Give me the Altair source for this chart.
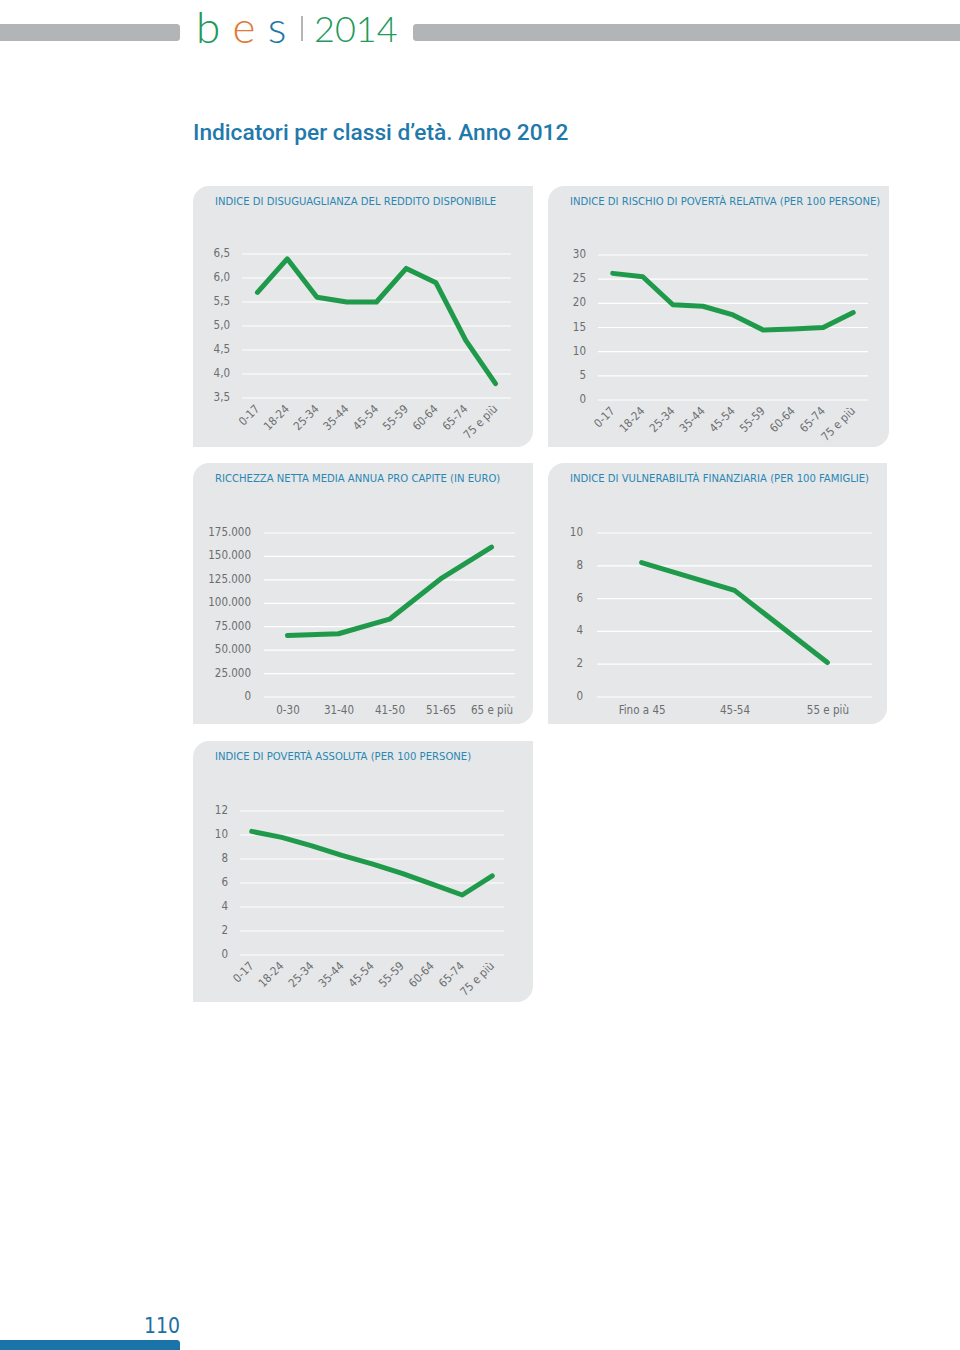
import altair as alt
import pandas as pd

# ---------------- data ----------------
AGE9 = ["0-17", "18-24", "25-34", "35-44", "45-54", "55-59", "60-64", "65-74", "75 e più"]
DISUG = [5.7, 6.4, 5.6, 5.5, 5.5, 6.2, 5.9, 4.7, 3.8]
RISCHIO = [26.2, 25.5, 19.7, 19.4, 17.6, 14.5, 14.7, 15.0, 18.1]
AGE_RICC = ["0-30", "31-40", "41-50", "51-65", "65 e più"]
RICCHEZZA = [65500, 67500, 83000, 126000, 160000]
AGE_VULN = ["Fino a 45", "45-54", "55 e più"]
VULNER = [8.2, 6.5, 2.1]
ASSOLUTA = [10.3, 9.8, 9.1, 8.3, 7.6, 6.8, 5.9, 5.0, 6.6]

TICKS_DISUG = [3.5, 4.0, 4.5, 5.0, 5.5, 6.0, 6.5]
LAB_DISUG = ["3,5", "4,0", "4,5", "5,0", "5,5", "6,0", "6,5"]
TICKS_RISCHIO = [0, 5, 10, 15, 20, 25, 30]
LAB_RISCHIO = ["0", "5", "10", "15", "20", "25", "30"]
TICKS_RICC = [0, 25000, 50000, 75000, 100000, 125000, 150000, 175000]
LAB_RICC = ["0", "25.000", "50.000", "75.000", "100.000", "125.000", "150.000", "175.000"]
TICKS_VULN = [0, 2, 4, 6, 8, 10]
LAB_VULN = ["0", "2", "4", "6", "8", "10"]
TICKS_ASS = [0, 2, 4, 6, 8, 10, 12]
LAB_ASS = ["0", "2", "4", "6", "8", "10", "12"]

TITLES = [
    "INDICE DI DISUGUAGLIANZA DEL REDDITO DISPONIBILE",
    "INDICE DI RISCHIO DI POVERTÀ RELATIVA (PER 100 PERSONE)",
    "RICCHEZZA NETTA MEDIA ANNUA PRO CAPITE (IN EURO)",
    "INDICE DI VULNERABILITÀ FINANZIARIA (PER 100 FAMIGLIE)",
    "INDICE DI POVERTÀ ASSOLUTA (PER 100 PERSONE)",
]
PAGE_TITLE = "Indicatori per classi d’età. Anno 2012"

# ---------------- style ----------------
NARROW = "Liberation Sans Narrow, DejaVu Sans Condensed, Liberation Sans, sans-serif"
GREEN = "#1f9a4b"
TITLE_BLUE = "#2a87b3"
PAGE_BLUE = "#1f79ab"
LABEL = "#6b6e71"
PANEL_BG = "#e6e7e8"
HEADER_GRAY = "#b2b4b6"
TICK_FS = 11.5

W, H = 960, 1350
one = pd.DataFrame({"k": [0]})


def panel(title, cats, vals, ticks, labels, box, grid_x, y_px, label_right, pad, rotated):
    bx0, by0, bx1, by1 = box
    gx0, gx1 = grid_x
    y_bot, y_top = y_px
    df = pd.DataFrame({"cat": cats, "val": vals})
    gdf = pd.DataFrame({"val": ticks, "lab": labels})
    xs = alt.Scale(type="point", domain=cats, range=[gx0, gx1], padding=pad)
    ys = alt.Scale(domain=[ticks[0], ticks[-1]], range=[y_bot, y_top], nice=False, zero=False)

    if rotated:
        xaxis = alt.Axis(
            orient="bottom", offset=y_bot - H, domain=False, ticks=False, grid=False,
            labelAngle=315, labelAlign="right", labelBaseline="middle", labelPadding=9,
            labelFont=NARROW, labelFontSize=TICK_FS, labelColor=LABEL, labelOverlap=False,
            labelBound=False, title=None, zindex=1,
        )
    else:
        xaxis = alt.Axis(
            orient="bottom", offset=y_bot - H, domain=False, ticks=False, grid=False,
            labelAngle=0, labelAlign="center", labelBaseline="top", labelPadding=7,
            labelFont=NARROW, labelFontSize=TICK_FS, labelColor=LABEL, labelOverlap=False,
            labelBound=False, title=None, zindex=1,
        )

    bg = alt.Chart(one).mark_rect(
        color=PANEL_BG, cornerRadiusTopLeft=16, cornerRadiusBottomRight=16
    ).encode(x=alt.value(bx0), x2=alt.value(bx1), y=alt.value(by0), y2=alt.value(by1))

    grid = alt.Chart(gdf).mark_rule(color="white", strokeWidth=1.2).encode(
        y=alt.Y("val:Q", scale=ys, axis=None),
        x=alt.value(gx0), x2=alt.value(gx1),
    )

    ylabels = alt.Chart(gdf).mark_text(
        align="right", baseline="middle", font=NARROW, fontSize=TICK_FS, color=LABEL
    ).encode(
        y=alt.Y("val:Q", scale=ys, axis=None),
        x=alt.value(label_right),
        text="lab:N",
    )

    line = alt.Chart(df).mark_line(
        color=GREEN, strokeWidth=5, strokeJoin="round", strokeCap="round"
    ).encode(
        x=alt.X("cat:N", scale=xs, sort=None, axis=xaxis),
        y=alt.Y("val:Q", scale=ys, axis=None),
    )

    ttl = alt.Chart(one).mark_text(
        text=title, align="left", baseline="middle", font=NARROW, fontSize=11.2,
        color=TITLE_BLUE,
    ).encode(x=alt.value(bx0 + 22), y=alt.value(by0 + 16))

    return alt.layer(bg, grid, ylabels, line, ttl)


p1 = panel(TITLES[0], AGE9, DISUG, TICKS_DISUG, LAB_DISUG, (193, 186, 533, 447), (242, 511), (398, 254), 230, 0.52, True)
p2 = panel(TITLES[1], AGE9, RISCHIO, TICKS_RISCHIO, LAB_RISCHIO, (548, 186, 889, 447), (598, 868), (400, 255), 586, 0.49, True)
p3 = panel(TITLES[2], AGE_RICC, RICCHEZZA, TICKS_RICC, LAB_RICC, (193, 463, 533, 724), (264, 515), (697, 533), 251, 0.46, False)
p4 = panel(TITLES[3], AGE_VULN, VULNER, TICKS_VULN, LAB_VULN, (548, 463, 887, 724), (597, 872), (697, 533), 583, 0.48, False)
p5 = panel(TITLES[4], AGE9, ASSOLUTA, TICKS_ASS, LAB_ASS, (193, 741, 533, 1002), (240, 504), (955, 811), 228, 0.39, True)

# ---------------- page decorations ----------------
bar_l = alt.Chart(one).mark_rect(color=HEADER_GRAY, cornerRadiusTopRight=3, cornerRadiusBottomRight=3).encode(
    x=alt.value(0), x2=alt.value(180), y=alt.value(24), y2=alt.value(41))
bar_r = alt.Chart(one).mark_rect(color=HEADER_GRAY, cornerRadiusTopLeft=3, cornerRadiusBottomLeft=3).encode(
    x=alt.value(413), x2=alt.value(960), y=alt.value(24), y2=alt.value(41))

logo_font = "Lato, Noto Sans, sans-serif"


def logo_letter(ch, xc, color):
    return alt.Chart(one).mark_text(
        text=ch, align="center", baseline="alphabetic", font=logo_font,
        fontWeight=300, fontSize=44, color=color,
    ).encode(x=alt.value(xc), y=alt.value(43))


logo_b = logo_letter("b", 208, "#23995a")
logo_e = logo_letter("e", 244, "#e17a37")
logo_s = logo_letter("s", 277, "#1f76a9")
logo_div = alt.Chart(one).mark_rule(color="#9a9c9e", strokeWidth=1.5).encode(
    x=alt.value(302), y=alt.value(16), y2=alt.value(41))
logo_year = alt.Chart(one).mark_text(text="2014", align="left", baseline="alphabetic", font=logo_font,
                                     fontWeight=300, fontSize=36, color="#23995a").encode(
    x=alt.value(314), y=alt.value(42))

page_title = alt.Chart(one).mark_text(text=PAGE_TITLE, align="left", baseline="alphabetic",
                                      font="Roboto, Noto Sans, sans-serif", fontWeight=500,
                                      fontSize=22.7, color=PAGE_BLUE).encode(
    x=alt.value(193), y=alt.value(139.5))

foot_bar = alt.Chart(one).mark_rect(color="#1b74a9", cornerRadiusTopRight=3).encode(
    x=alt.value(0), x2=alt.value(180), y=alt.value(1340), y2=alt.value(1350))
foot_num = alt.Chart(one).mark_text(text="110", align="right", baseline="alphabetic", font=NARROW,
                                    fontSize=21, color="#1f6fa0").encode(
    x=alt.value(180), y=alt.value(1333))

chart = alt.layer(
    bar_l, bar_r, logo_b, logo_e, logo_s, logo_div, logo_year, page_title,
    p1, p2, p3, p4, p5, foot_bar, foot_num,
).resolve_scale(
    x="independent", y="independent"
).resolve_axis(
    x="independent", y="independent"
).properties(
    width=W, height=H, padding=0, autosize=alt.AutoSizeParams(type="none"), background="white"
).configure_view(stroke=None)

chart.save("out.html", embed_options={"renderer": "svg", "actions": False})
